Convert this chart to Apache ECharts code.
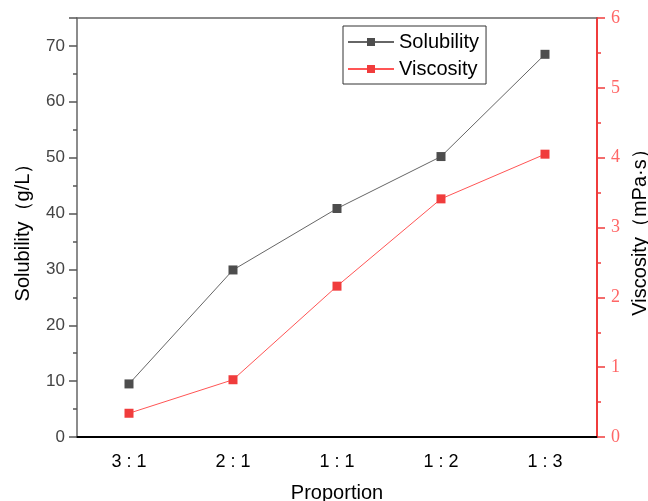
<!DOCTYPE html>
<html>
<head>
<meta charset="utf-8">
<script src="https://cdn.jsdelivr.net/npm/echarts@6/dist/echarts.min.js"></script>
<style>html,body{margin:0;padding:0;background:#fff}#c{width:648px;height:501px}</style>
</head>
<body>
<div id="c"></div>
<script>
var categories = ['3 : 1', '2 : 1', '1 : 1', '1 : 2', '1 : 3'];
var solubility = [9.5, 29.9, 40.9, 50.2, 68.5];
var viscosity = [0.34, 0.82, 2.16, 3.41, 4.05];

var chart = echarts.init(document.getElementById('c'));
var sans = 'Liberation Sans, Arial, sans-serif';
chart.setOption({
  animation: false,
  backgroundColor: '#fff',
  grid: { left: 77, right: 51, top: 18, bottom: 64, outerBoundsMode: 'none', containLabel: false },
  legend: {
    orient: 'vertical',
    left: 343, top: 26,
    borderColor: '#333', borderWidth: 1,
    padding: [6, 7, 5, 4],
    itemGap: 7,
    itemWidth: 46, itemHeight: 10,
    textStyle: { fontSize: 20, fontFamily: sans, color: '#000' },
    data: ['Solubility', 'Viscosity']
  },
  xAxis: [{
    type: 'category', data: categories, position: 'bottom',
    name: 'Proportion', nameLocation: 'middle', nameGap: 46,
    nameTextStyle: { fontSize: 20, fontFamily: sans, color: '#000' },
    axisLine: { lineStyle: { color: '#000', width: 2 } },
    axisTick: { alignWithLabel: true, length: 8, lineStyle: { color: '#000', width: 1.5 } },
    axisLabel: { fontSize: 18, fontFamily: sans, color: '#000', margin: 16 },
    splitLine: { show: false }
  }, {
    type: 'category', data: categories, position: 'bottom',
    axisLine: { show: false },
    axisTick: { length: 5, lineStyle: { color: '#000', width: 1.5 } },
    axisLabel: { show: false },
    splitLine: { show: false }
  }, {
    type: 'category', data: categories, position: 'top',
    axisLine: { lineStyle: { color: '#666', width: 1.5 } },
    axisTick: { show: false }, axisLabel: { show: false },
    splitLine: { show: false }
  }],
  yAxis: [{
    type: 'value', min: 0, max: 75, interval: 10, position: 'left',
    name: 'Solubility（g/L）', nameLocation: 'middle', nameGap: 44, nameRotate: 90,
    nameTextStyle: { fontSize: 20, fontFamily: sans, color: '#000' },
    axisLine: { show: true, lineStyle: { color: '#666', width: 1.5 } },
    axisTick: { show: true, length: 8, lineStyle: { color: '#555', width: 1.5 } },
    minorTick: { show: true, splitNumber: 2, length: 4, lineStyle: { color: '#555', width: 1.5 } },
    axisLabel: { fontSize: 17, fontFamily: sans, color: '#444', margin: 12,
      formatter: function (v) { return v > 70 ? '' : v; } },
    splitLine: { show: false }
  }, {
    type: 'value', min: 0, max: 6, interval: 1, position: 'right',
    name: 'Viscosity（mPa·s）', nameLocation: 'middle', nameGap: 31, nameRotate: 90,
    nameTextStyle: { fontSize: 20, fontFamily: sans, color: '#000' },
    axisLine: { show: true, lineStyle: { color: '#f03c3c', width: 2 } },
    axisTick: { show: true, length: 8, lineStyle: { color: '#f03c3c', width: 1.5 } },
    minorTick: { show: true, splitNumber: 2, length: 4, lineStyle: { color: '#f03c3c', width: 1.5 } },
    axisLabel: { fontSize: 18, fontFamily: 'Liberation Serif, Times New Roman, serif', color: '#f66', margin: 14 },
    splitLine: { show: false }
  }],
  series: [{
    name: 'Solubility', type: 'line', xAxisIndex: 0, yAxisIndex: 0,
    data: solubility,
    symbol: 'rect', symbolSize: 9,
    lineStyle: { color: '#666', width: 1 },
    itemStyle: { color: '#4d4d4d' }
  }, {
    name: 'Viscosity', type: 'line', xAxisIndex: 0, yAxisIndex: 1,
    data: viscosity,
    symbol: 'rect', symbolSize: 9,
    lineStyle: { color: '#f55', width: 1 },
    itemStyle: { color: '#f03c3c' }
  }]
});
</script>
</body>
</html>
